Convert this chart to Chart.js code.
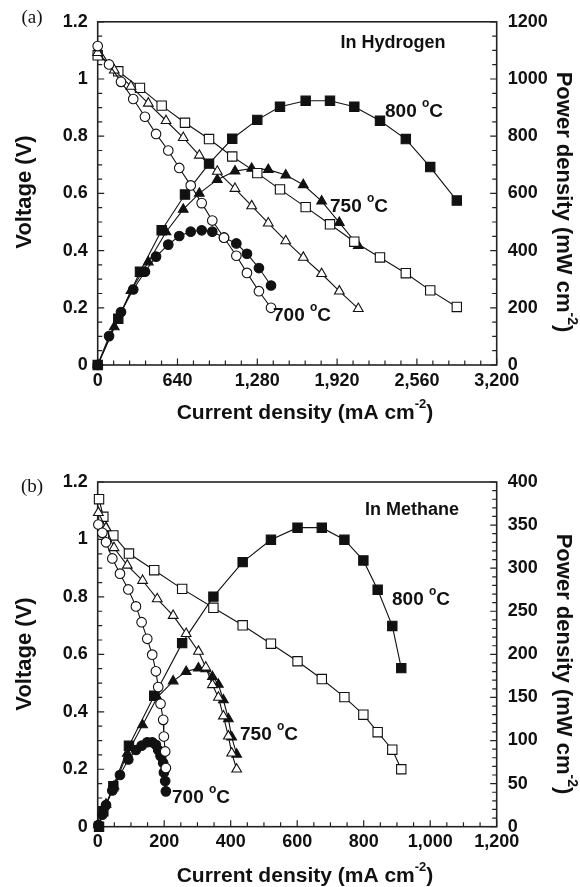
<!DOCTYPE html>
<html>
<head>
<meta charset="utf-8">
<script src="https://cdn.jsdelivr.net/npm/chart.js@4/dist/chart.umd.min.js"></script>
<style>
  html, body { margin: 0; padding: 0; background: #fff; }
  #wrap { position: relative; width: 580px; height: 887px; }
  canvas { position: absolute; left: 0; }
  #chartA { top: 0; }
  #chartB { top: 440px; }
</style>
</head>
<body>
<div id="wrap">
  <canvas id="chartA" width="580" height="440"></canvas>
  <canvas id="chartB" width="580" height="447"></canvas>
</div>
<script>
(function () {
    "use strict";

    // (a) In Hydrogen - current (mA cm-2), voltage (V), power (mW cm-2)
    const h700Current = [0, 91, 187, 285, 379, 468, 566, 654, 746, 834, 919, 1013, 1112, 1197, 1293, 1390];
    const h700Voltage = [1.115, 1.051, 0.99, 0.93, 0.868, 0.808, 0.75, 0.689, 0.628, 0.566, 0.505, 0.445, 0.382, 0.322, 0.258, 0.2];
    const h700Power = [0, 101, 185, 264, 326, 379, 421, 451, 466, 471, 466, 446, 425, 389, 339, 278];

    const h750Current = [0, 133, 267, 406, 548, 686, 815, 959, 1101, 1235, 1368, 1508, 1649, 1796, 1938, 2090];
    const h750Voltage = [1.092, 1.031, 0.974, 0.915, 0.854, 0.795, 0.733, 0.677, 0.617, 0.556, 0.496, 0.434, 0.376, 0.319, 0.258, 0.197];
    const h750Power = [0, 133, 260, 360, 465, 544, 600, 648, 678, 687, 683, 664, 630, 573, 498, 417];

    const h800Current = [0, 165, 339, 513, 700, 893, 1079, 1280, 1462, 1668, 1863, 2058, 2264, 2471, 2667, 2880];
    const h800Voltage = [1.083, 1.027, 0.969, 0.907, 0.847, 0.79, 0.729, 0.671, 0.614, 0.552, 0.492, 0.431, 0.376, 0.321, 0.261, 0.203];
    const h800Power = [0, 162, 326, 471, 596, 704, 791, 857, 903, 924, 924, 903, 854, 790, 692, 575];

    // (b) In Methane
    const m700Current = [2, 14, 25, 44, 67, 92, 115, 132, 149, 164, 175, 182, 189, 197, 199, 203, 205];
    const m700Voltage = [1.052, 1.023, 0.99, 0.934, 0.881, 0.826, 0.767, 0.712, 0.654, 0.599, 0.541, 0.486, 0.428, 0.372, 0.314, 0.262, 0.204];
    const m700Power = [2, 14, 25, 42, 60, 78, 89, 94, 98, 98, 95, 89, 82, 74, 63, 53, 41];

    const m750Current = [2, 25, 49, 89, 135, 179, 227, 266, 303, 325, 345, 363, 378, 393, 403, 418];
    const m750Voltage = [1.093, 1.04, 0.971, 0.91, 0.857, 0.793, 0.735, 0.672, 0.61, 0.555, 0.494, 0.45, 0.385, 0.315, 0.256, 0.2];
    const m750Power = [2, 26, 47, 85, 118, 150, 169, 180, 184, 183, 174, 165, 147, 125, 104, 84];

    const m800Current = [4, 17, 47, 94, 170, 254, 348, 436, 521, 601, 674, 742, 799, 842, 886, 913];
    const m800Voltage = [1.14, 1.079, 1.014, 0.951, 0.893, 0.828, 0.762, 0.701, 0.637, 0.576, 0.514, 0.451, 0.39, 0.329, 0.268, 0.2];
    const m800Power = [0, 18, 47, 94, 152, 213, 267, 307, 333, 347, 347, 333, 309, 275, 233, 184];

    // axis ticks
    const hCurrentTicks = [0, 3200, 640, 128];   // min, max, major, minor
    const mCurrentTicks = [0, 1200, 200, 50];
    const voltageTicks = [0, 1.2, 0.2, 0.05];
    const hPowerTicks = [0, 1200, 200, 50];
    const mPowerTicks = [0, 400, 50, 10];

    const SANS = '"Liberation Sans", Arial, Helvetica, sans-serif';
    const SERIF = '"Liberation Serif", "Times New Roman", serif';

    const markerSize = { circle: 4.8, triangle: 5.6, rect: 6.6 };

    function series(current, values, style, filled, axis) {
        return {
            data: current.map((c, i) => ({ x: c, y: values[i] })),
            yAxisID: axis,
            borderColor: "#111",
            borderWidth: 1.1,
            tension: 0,
            clip: false,
            pointStyle: style,
            pointRadius: markerSize[style],
            pointBorderWidth: 1.1,
            pointBorderColor: "#111",
            pointBackgroundColor: filled ? "#111" : "#fff",
        };
    }

    // text with optional superscript pieces: [[text, isSup], ...]
    function drawRich(ctx, parts, x, y, size, rotation, align) {
        const base = "bold " + size + "px " + SANS;
        const sup = "bold " + Math.round(size * 0.62) + "px " + SANS;
        let total = 0;
        parts.forEach((p) => {
            ctx.font = p[1] ? sup : base;
            total += ctx.measureText(p[0]).width;
        });
        ctx.save();
        ctx.translate(x, y);
        ctx.rotate(rotation || 0);
        ctx.fillStyle = "#111";
        ctx.textBaseline = "middle";
        ctx.textAlign = "left";
        let cx = align === "left" ? 0 : -total / 2;
        parts.forEach((p) => {
            ctx.font = p[1] ? sup : base;
            ctx.fillText(p[0], cx, p[1] ? -size * 0.42 : 0);
            cx += ctx.measureText(p[0]).width;
        });
        ctx.restore();
    }

    function framePlugin(xT, yT, y1T) {
        return {
            id: "frame",
            beforeDatasetsDraw(chart) {
                const { ctx, chartArea: a, scales } = chart;
                ctx.save();
                ctx.strokeStyle = "#222";
                ctx.lineWidth = 1.2;
                ctx.beginPath();
                const marks = (scale, t, fn) => {
                    const n = Math.round((t[1] - t[0]) / t[3]);
                    for (let i = 0; i <= n; i++) {
                        const v = t[0] + i * t[3];
                        const r = v / t[2];
                        fn(scale.getPixelForValue(v), Math.abs(r - Math.round(r)) < 1e-6 ? 6.5 : 4.5);
                    }
                };
                marks(scales.x, xT, (p, len) => { ctx.moveTo(p, a.bottom); ctx.lineTo(p, a.bottom - len); });
                marks(scales.y, yT, (p, len) => { ctx.moveTo(a.left, p); ctx.lineTo(a.left + len, p); });
                marks(scales.y1, y1T, (p, len) => { ctx.moveTo(a.right, p); ctx.lineTo(a.right - len, p); });
                ctx.stroke();
                ctx.lineWidth = 1.6;
                ctx.strokeRect(a.left, a.top, a.right - a.left, a.bottom - a.top);
                ctx.restore();
            },
        };
    }

    function labelPlugin(texts) {
        return {
            id: "labels",
            afterDraw(chart) {
                const ctx = chart.ctx;
                texts.forEach((t) => {
                    if (t.serif) {
                        ctx.save();
                        ctx.font = t.size + "px " + SERIF;
                        ctx.fillStyle = "#111";
                        ctx.textAlign = "center";
                        ctx.textBaseline = "middle";
                        ctx.fillText(t.parts[0][0], t.x, t.y);
                        ctx.restore();
                    } else {
                        drawRich(ctx, t.parts, t.x, t.y, t.size, t.rot, t.align);
                    }
                });
            },
        };
    }

    function tempLabel(temp, x, y) {
        return { parts: [[temp + " ", false], ["o", true], ["C", false]], x: x, y: y, size: 19, align: "left" };
    }

    function makePanel(canvasId, cfg) {
        const tickFont = { family: SANS, size: 18, weight: "bold" };
        const ctx = $(canvasId)[0].getContext("2d");
        return new Chart(ctx, {
            type: "line",
            data: { datasets: cfg.datasets },
            options: {
                responsive: false,
                animation: false,
                devicePixelRatio: 1,
                layout: { padding: { top: cfg.top, left: 0, right: 0, bottom: 0 } },
                plugins: { legend: { display: false }, tooltip: { enabled: false } },
                scales: {
                    x: {
                        type: "linear",
                        min: cfg.xT[0],
                        max: cfg.xT[1],
                        grid: { display: false, drawTicks: false },
                        border: { display: false },
                        ticks: {
                            stepSize: cfg.xT[2],
                            autoSkip: false,
                            maxRotation: 0,
                            padding: 5,
                            color: "#111",
                            font: tickFont,
                            callback: (v) => v.toLocaleString("en-US"),
                        },
                        afterFit: (s) => { s.height = cfg.xHeight; },
                    },
                    y: {
                        position: "left",
                        min: cfg.yT[0],
                        max: cfg.yT[1],
                        grid: { display: false, drawTicks: false },
                        border: { display: false },
                        ticks: {
                            stepSize: cfg.yT[2],
                            padding: 10,
                            color: "#111",
                            font: tickFont,
                            callback: (v) => String(Math.round(v * 10) / 10),
                        },
                        afterFit: (s) => { s.width = 97.7; },
                    },
                    y1: {
                        position: "right",
                        min: cfg.y1T[0],
                        max: cfg.y1T[1],
                        grid: { display: false, drawTicks: false },
                        border: { display: false },
                        ticks: {
                            stepSize: cfg.y1T[2],
                            padding: 11,
                            color: "#111",
                            font: tickFont,
                            callback: (v) => String(v),
                        },
                        afterFit: (s) => { s.width = 83.3; },
                    },
                },
            },
            plugins: [framePlugin(cfg.xT, voltageTicks, cfg.y1T), labelPlugin(cfg.texts)],
        });
    }

    function titles(tag, yMid, xTitleY) {
        return [
            { serif: true, parts: [[tag]], x: 32, y: yMid.tag, size: 19 },
            { parts: [["Voltage (V)", false]], x: 25, y: yMid.plot, size: 22, rot: -Math.PI / 2 },
            { parts: [["Power density (mW cm", false], ["-2", true], [")", false]], x: 563, y: yMid.plot + 10, size: 22, rot: Math.PI / 2 },
            { parts: [["Current density (mA cm", false], ["-2", true], [")", false]], x: 305, y: xTitleY, size: 21 },
        ];
    }

    makePanel("#chartA", {
        top: 19.5,
        xHeight: 75,
        xT: hCurrentTicks,
        yT: voltageTicks,
        y1T: hPowerTicks,
        datasets: [
            series(h700Current, h700Voltage, "circle", false, "y"),
            series(h750Current, h750Voltage, "triangle", false, "y"),
            series(h800Current, h800Voltage, "rect", false, "y"),
            series(h700Current, h700Power, "circle", true, "y1"),
            series(h750Current, h750Power, "triangle", true, "y1"),
            series(h800Current, h800Power, "rect", true, "y1"),
        ],
        texts: titles("(a)", { tag: 18, plot: 192 }, 413).concat([
            { parts: [["In Hydrogen", false]], x: 393, y: 43, size: 18 },
            tempLabel("800", 385, 112),
            tempLabel("750", 330, 207),
            tempLabel("700", 273, 316),
        ]),
    });

    makePanel("#chartB", {
        top: 42,
        xHeight: 60.3,
        xT: mCurrentTicks,
        yT: voltageTicks,
        y1T: mPowerTicks,
        datasets: [
            series(m700Current, m700Voltage, "circle", false, "y"),
            series(m750Current, m750Voltage, "triangle", false, "y"),
            series(m800Current, m800Voltage, "rect", false, "y"),
            series(m700Current, m700Power, "circle", true, "y1"),
            series(m750Current, m750Power, "triangle", true, "y1"),
            series(m800Current, m800Power, "rect", true, "y1"),
        ],
        texts: titles("(b)", { tag: 47, plot: 214 }, 436).concat([
            { parts: [["In Methane", false]], x: 412, y: 70, size: 18 },
            tempLabel("800", 392, 160),
            tempLabel("750", 240, 295),
            tempLabel("700", 172, 358),
        ]),
    });

    function $(sel) { return [document.querySelector(sel)]; }
})();
</script>
</body>
</html>
